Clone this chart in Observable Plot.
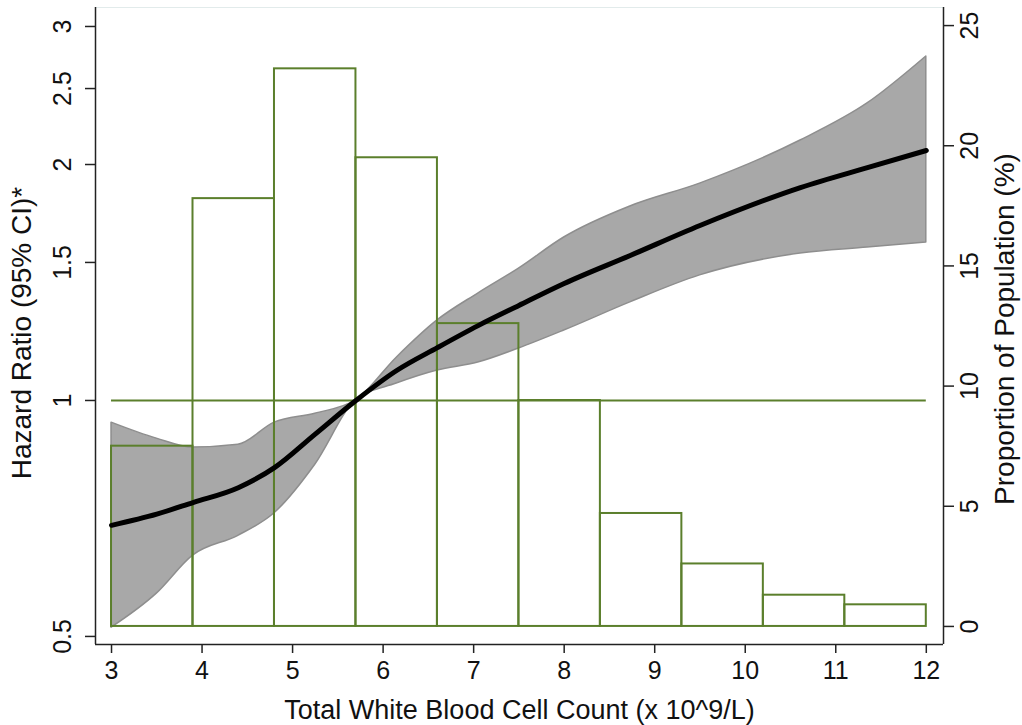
<!DOCTYPE html>
<html>
<head>
<meta charset="utf-8">
<script src="https://cdn.jsdelivr.net/npm/d3@7"></script>
<script src="https://cdn.jsdelivr.net/npm/@observablehq/plot@0.6"></script>
<style>
  html, body { margin: 0; padding: 0; background: #fff; }
</style>
</head>
<body>
<div id="chart"></div>
<script>
// ---------- data ----------
const xTicks = [3, 4, 5, 6, 7, 8, 9, 10, 11, 12];
const hrTicks = [0.5, 1, 1.5, 2, 2.5, 3];
const pctTicks = [0, 5, 10, 15, 20, 25];

// histogram (proportion of population, %)
const binStart = [3.0, 3.9, 4.8, 5.7, 6.6, 7.5, 8.4, 9.3, 10.2, 11.1];
const binEnd   = [3.9, 4.8, 5.7, 6.6, 7.5, 8.4, 9.3, 10.2, 11.1, 12.0];
const binPct   = [7.5, 17.8, 23.2, 19.5, 12.6, 9.4, 4.7, 2.6, 1.3, 0.9];

// spline hazard ratio with 95% CI
const wbc   = [3.0, 3.5, 3.9, 4.4, 4.8, 5.25, 5.7, 6.15, 6.6, 7.05, 7.5, 8.0, 8.73, 9.5, 10.61, 11.35, 12.0];
const hr    = [0.693, 0.716, 0.741, 0.774, 0.821, 0.906, 1.0, 1.092, 1.168, 1.246, 1.322, 1.41, 1.531, 1.672, 1.869, 1.982, 2.084];
const upper = [0.937, 0.894, 0.871, 0.878, 0.937, 0.962, 1.0, 1.134, 1.265, 1.369, 1.473, 1.614, 1.768, 1.891, 2.146, 2.393, 2.747];
const lower = [0.513, 0.567, 0.634, 0.672, 0.718, 0.828, 1.0, 1.051, 1.092, 1.118, 1.165, 1.228, 1.334, 1.444, 1.54, 1.567, 1.59];

const xTitle = "Total White Blood Cell Count (x 10^9/L)";
const yTitle = "Hazard Ratio (95% CI)*";
const y2Title = "Proportion of Population (%)";

// ---------- derived tables ----------
const curve = wbc.map((x, i) => ({x, hr: hr[i], lo: lower[i], hi: upper[i]}));
const bars = binStart.map((s, i) => ({x1: s, x2: binEnd[i], pct: binPct[i]}));

// secondary (right) axis alignment: 0% and 25% expressed on the HR (log) scale
const hrAt0 = 0.5149, hrAt25 = 3.008;
const pctToHR = p => hrAt0 * Math.pow(hrAt25 / hrAt0, p / 25);

const xDomain = [2.823, 12.19];
const yDomain = [0.4883, 3.172];

const green = "#5b7f2c";
const font = "'Liberation Sans', Arial, Helvetica, sans-serif";

const chart = Plot.plot({
  width: 1022,
  height: 725,
  marginLeft: 95,
  marginRight: 79,
  marginTop: 7,
  marginBottom: 81,
  style: {fontFamily: font, fontSize: "25px", background: "#fff", color: "#111"},
  x: {domain: xDomain},
  y: {type: "log", domain: yDomain},
  marks: [
    // CI band
    Plot.areaY(curve, {x: "x", y1: "lo", y2: "hi", fill: "#a8a8a8", stroke: "#8e8e8e", strokeWidth: 1.5, curve: "monotone-x"}),
    // histogram outlines
    Plot.rect(bars, {x1: "x1", x2: "x2", y1: () => pctToHR(0), y2: d => pctToHR(d.pct), fill: "none", stroke: green, strokeWidth: 2}),
    // reference line HR = 1
    Plot.ruleY([1], {x1: 3, x2: 12, stroke: green, strokeWidth: 2}),
    // HR curve
    Plot.line(curve, {x: "x", y: "hr", stroke: "#000", strokeWidth: 5, curve: "monotone-x"}),
    // frame lines
    Plot.ruleY([yDomain[1]], {stroke: "#e2ebeb", strokeWidth: 1}),
    Plot.ruleX([xDomain[0]], {stroke: "#222", strokeWidth: 1.5}),
    Plot.ruleX([xDomain[1]], {stroke: "#222", strokeWidth: 1.5}),
    Plot.ruleY([yDomain[0]], {stroke: "#222", strokeWidth: 1.5}),
    // x axis
    Plot.axisX({ticks: xTicks, tickSize: 9, tickPadding: 8, tickFormat: d => String(d), label: null, stroke: "#222", strokeWidth: 1.5}),
    // left axis ticks + labels
    Plot.axisY({anchor: "left", ticks: hrTicks, tickSize: 10, tickFormat: () => "", label: null, stroke: "#222", strokeWidth: 1.5}),
    Plot.text(hrTicks, {y: d => d, text: d => String(d), frameAnchor: "left", dx: -33, rotate: -90, textAnchor: "middle", lineAnchor: "middle", fill: "#111"}),
    // right axis ticks + labels
    Plot.axisY({anchor: "right", ticks: pctTicks.map(pctToHR), tickSize: 10, tickFormat: () => "", label: null, stroke: "#222", strokeWidth: 1.5}),
    Plot.text(pctTicks, {y: d => pctToHR(d), text: d => String(d), frameAnchor: "right", dx: 26, rotate: -90, textAnchor: "middle", lineAnchor: "middle", fill: "#111"}),
    // titles
    Plot.text([xTitle], {frameAnchor: "bottom", dy: 66, textAnchor: "middle", lineAnchor: "middle", fill: "#111", fontSize: 27}),
    Plot.text([yTitle], {frameAnchor: "left", dx: -73, dy: 7, rotate: -90, textAnchor: "middle", lineAnchor: "middle", fill: "#111", fontSize: 28}),
    Plot.text([y2Title], {frameAnchor: "right", dx: 62, dy: 3, rotate: -90, textAnchor: "middle", lineAnchor: "middle", fill: "#111", fontSize: 28})
  ]
});
document.getElementById("chart").appendChild(chart);
</script>
</body>
</html>
